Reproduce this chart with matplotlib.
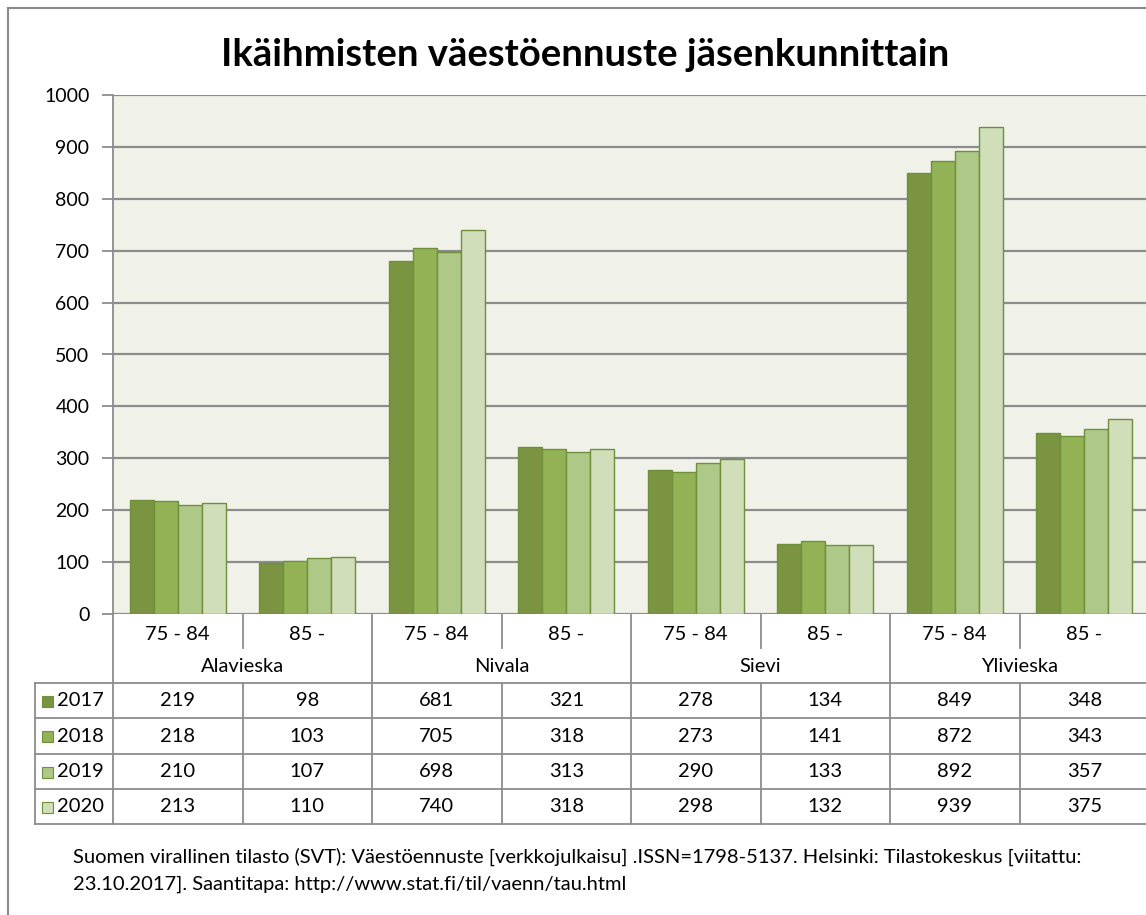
import numpy as np
import matplotlib.pyplot as plt
import matplotlib.transforms as mtransforms
from matplotlib.lines import Line2D
from matplotlib.patches import Rectangle

plt.rcParams["font.family"] = ["Lato", "DejaVu Sans"]

municipalities = ["Alavieska", "Nivala", "Sievi", "Ylivieska"]
age_groups = ["75 - 84", "85 -"]
years = ["2017", "2018", "2019", "2020"]

v2017 = [219, 98, 681, 321, 278, 134, 849, 348]
v2018 = [218, 103, 705, 318, 273, 141, 872, 343]
v2019 = [210, 107, 698, 313, 290, 133, 892, 357]
v2020 = [213, 110, 740, 318, 298, 132, 939, 375]
series = [v2017, v2018, v2019, v2020]

colors = ["#7A9442", "#93B255", "#AEC888", "#D0DEBA"]
edge = "#6F8F3A"
grid_c = "#8C8C8C"

W, H = 1146, 915
fig = plt.figure(figsize=(W / 100, H / 100), dpi=100)

# plot area in pixel coords (extends a bit past the right edge, like the original crop)
x0, x1, ytop, ybot = 113, 1149, 95, 614
ax = fig.add_axes([x0 / W, (H - ybot) / H, (x1 - x0) / W, (ybot - ytop) / H])
ax.set_facecolor("#F0F2E9")

n = len(v2017)
x = np.arange(n)
bw = 0.185
for i, (vals, c) in enumerate(zip(series, colors)):
    ax.bar(x + (i - 1.5) * bw, vals, width=bw, color=c, edgecolor=edge,
           linewidth=1.0, zorder=3)

ax.set_xlim(-0.5, n - 0.5)
ax.set_ylim(0, 1000)
ax.set_yticks(np.arange(0, 1001, 100))
ax.tick_params(axis="y", length=8, width=1.3, color=grid_c, labelsize=14, pad=9)
ax.set_xticks([])
ax.yaxis.grid(True, color=grid_c, linewidth=1.6, zorder=1)
for s in ["top", "right", "bottom"]:
    ax.spines[s].set_visible(False)
ax.spines["left"].set_color(grid_c)
ax.spines["left"].set_linewidth(1.3)

fig.text(585 / W, 1 - 55 / H, "Ikäihmisten väestöennuste jäsenkunnittain",
         ha="center", va="center", fontsize=27.5, fontweight="bold")

# data table under the chart: x in data units, y in figure fraction
tr = mtransforms.blended_transform_factory(ax.transData, fig.transFigure)


def fy(py):
    return 1 - py / H


def hline(xa, xb, py, trans):
    fig.add_artist(Line2D([xa, xb], [fy(py), fy(py)], transform=trans,
                          color=grid_c, lw=1.3, clip_on=False))


def vline(xv, pa, pb, trans):
    fig.add_artist(Line2D([xv, xv], [fy(pa), fy(pb)], transform=trans,
                          color=grid_c, lw=1.3, clip_on=False))


rows_y = [683, 718, 754, 789, 824]
for py in rows_y:
    hline(35 / W, 1.0, py, fig.transFigure)
vline(35 / W, 683, 824, fig.transFigure)
vline(-0.5, 614, 824, tr)
for k in range(n):
    xb = k + 0.5
    if k % 2 == 1:
        vline(xb, 614, 824, tr)
    else:
        vline(xb, 614, 648, tr)
        vline(xb, 683, 824, tr)

fs = 14.5
for k in range(n):
    fig.text(k, fy(634), age_groups[k % 2], transform=tr, ha="center",
             va="center", fontsize=fs)
for g, name in enumerate(municipalities):
    fig.text(2 * g + 0.5, fy(667), name, transform=tr, ha="center",
             va="center", fontsize=fs)

for r, (vals, c, yr) in enumerate(zip(series, colors, years)):
    cy = (rows_y[r] + rows_y[r + 1]) / 2
    for k in range(n):
        fig.text(k, fy(cy), str(vals[k]), transform=tr, ha="center",
                 va="center", fontsize=fs)
    fig.add_artist(Rectangle((42 / W, fy(cy + 6)), 11 / W, 11 / H,
                             transform=fig.transFigure, facecolor=c,
                             edgecolor=edge, lw=0.8))
    fig.text(57 / W, fy(cy), yr, ha="left", va="center", fontsize=fs)

# source note
fig.text(73 / W, fy(857), "Suomen virallinen tilasto (SVT): Väestöennuste [verkkojulkaisu] "
         ".ISSN=1798-5137. Helsinki: Tilastokeskus [viitattu:", ha="left",
         va="center", fontsize=14.5)
fig.text(73 / W, fy(884), "23.10.2017]. Saantitapa: http://www.stat.fi/til/vaenn/tau.html",
         ha="left", va="center", fontsize=14.5)

# outer frame (left and top visible)
fig.add_artist(Line2D([8 / W, 8 / W], [0, fy(8)], transform=fig.transFigure,
                      color="#8A8A8A", lw=1.5))
fig.add_artist(Line2D([8 / W, 1], [fy(8), fy(8)], transform=fig.transFigure,
                      color="#8A8A8A", lw=1.5))

fig.savefig("out.png", dpi=100, facecolor="white")
